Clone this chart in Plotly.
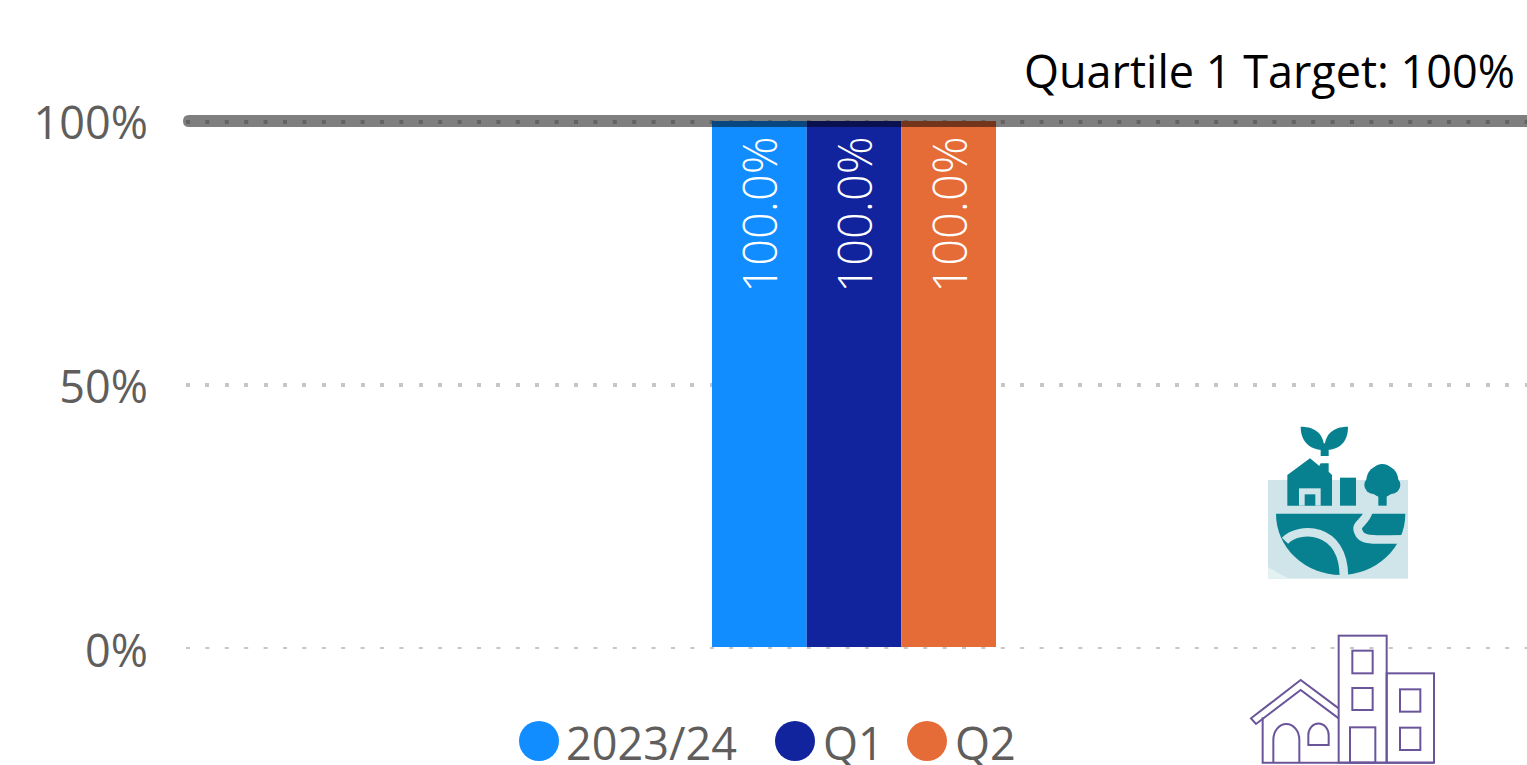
import base64
import plotly.graph_objects as go

W, H = 1527, 765

# Data
categories = ["2023/24"]
series_names = ["2023/24", "Q1", "Q2"]
series_values = [100.0, 100.0, 100.0]
series_colors = ["#118DFF", "#12239E", "#E66C37"]
tick_values = [0, 50, 100]
tick_labels = ["0%", "50%", "100%"]
target_value = 100
target_label = "Quartile 1 Target: 100%"

FONT = "Open Sans"
GREY = "#605E5C"
GRID = "#C8C6C4"
DOT_DASH = "4px,15.4px"


def px(x):
    return x / W


def py(y):
    return 1 - y / H


PLOT_L, PLOT_R, PLOT_T, PLOT_B = 186, 1527, 121, 649

fig = go.Figure()
for name, value, color in zip(series_names, series_values, series_colors):
    fig.add_trace(go.Bar(
        x=categories, y=[value], name=name, marker=dict(color=color, line=dict(width=0)),
        text=[f"{value:.1f}%\u00a0"], textposition="inside", insidetextanchor="end",
        textangle=-90, constraintext="none", cliponaxis=False,
        insidetextfont=dict(family=FONT, size=47, color="white", weight=300),
        showlegend=False, hoverinfo="skip",
    ))

band_y = PLOT_B - (PLOT_B - PLOT_T) * target_value / 100

shapes = []
# top gridline (the axis does not draw one on its range edge): under the bars and band
shapes.append(dict(type="line", xref="paper", yref="paper", layer="below",
                   x0=px(PLOT_L), x1=1, y0=py(band_y + 1), y1=py(band_y + 1),
                   line=dict(color=GRID, width=4, dash=DOT_DASH)))
# bars stop just above the zero line: a thin white strip, then the zero gridline on top
shapes.append(dict(type="rect", xref="paper", yref="paper", layer="above",
                   x0=px(700), x1=px(1010), y0=py(647), y1=py(652),
                   fillcolor="white", line=dict(width=0)))
shapes.append(dict(type="line", xref="paper", yref="y", layer="above",
                   x0=px(PLOT_L), x1=1, y0=0, y1=0,
                   line=dict(color=GRID, width=4, dash=DOT_DASH)))
# target band with a rounded left end, positioned from the target value
y_top, y_mid, y_bot = py(band_y - 6), py(band_y), py(band_y + 6)
x_a, x_b = px(183), px(189)
shapes.append(dict(
    type="path", xref="paper", yref="paper", layer="above",
    path=(f"M{x_b},{y_top} L1,{y_top} L1,{y_bot} L{x_b},{y_bot} "
          f"Q{x_a},{y_bot} {x_a},{y_mid} Q{x_a},{y_top} {x_b},{y_top} Z"),
    fillcolor="rgba(0,0,0,0.5)", line=dict(width=0)))

# legend
legend_items = [(539, 567), (795, 824), (927, 956)]
annotations = []
for (cx, tx), name, color in zip(legend_items, series_names, series_colors):
    shapes.append(dict(type="circle", xref="paper", yref="paper", layer="above",
                       x0=px(cx - 20), x1=px(cx + 20), y0=py(761), y1=py(721),
                       fillcolor=color, line=dict(width=0)))
    annotations.append(dict(xref="paper", yref="paper", x=px(tx), y=py(742), text=name,
                            showarrow=False, xanchor="left", yanchor="middle", xshift=-2,
                            font=dict(family=FONT, size=45, color=GREY),
                            borderpad=0))
annotations.append(dict(xref="paper", yref="paper", x=px(1516), y=py(70), text=target_label,
                        showarrow=False, xanchor="right", yanchor="middle", borderpad=0,
                        font=dict(family=FONT, size=45, color="black")))

icon_svg = f"""<svg xmlns='http://www.w3.org/2000/svg' viewBox='0 0 660 1065' width='660' height='1065'>
<rect x='54' y='560' width='596' height='505' fill='white'/>
<rect x='114' y='210' width='420' height='296' fill='#CFE5EA'/>
<path d='M114,470 Q150,495 180,506 L114,506Z' fill='#E4F1F3'/>
<g fill='#07818F'>
<path d='M212,50 C260,50 283,75 283,120 C240,120 212,95 212,50Z'/>
<path d='M354,50 C306,50 283,75 283,120 C330,120 354,95 354,50Z'/>
<rect x='272' y='100' width='24' height='38'/>
<path d='M172,195 L240,145 L268,168 L272,160 L296,160 L296,185 L306,195 L306,287 L172,287Z'/>
<rect x='330' y='203' width='48' height='84'/>
<circle cx='457' cy='212' r='48'/><circle cx='457' cy='195' r='33'/><circle cx='430' cy='225' r='27'/><circle cx='484' cy='225' r='27'/><circle cx='457' cy='235' r='28'/>
<rect x='445' y='250' width='25' height='37'/>
<path d='M138,311 H526 A194,184 0 0 1 138,311Z'/>
</g>
<rect x='207' y='235' width='65' height='52' fill='#CFE5EA'/>
<rect x='224' y='253' width='32' height='34' fill='#07818F'/>
<g fill='none' stroke='#CFE5EA' stroke-width='26'>
<path d='M165,392 C205,350 340,345 342,500'/>
<path d='M415,305 C405,340 375,340 385,365 C395,395 430,388 520,388'/>
</g>
<g fill='none' stroke='#6A559B' stroke-width='6'>
<rect x='326' y='677' width='144' height='381'/>
<rect x='470' y='790' width='142' height='268'/>
<rect x='367' y='722' width='61' height='68'/>
<rect x='367' y='834' width='61' height='66'/>
<rect x='360' y='952' width='76' height='106'/>
<rect x='510' y='838' width='61' height='67'/>
<rect x='510' y='953' width='61' height='67'/>
<path d='M326,895 L212,810 L63,925 L78,942 L212,840 L326,925'/>
<path d='M98,922 V1058 H612'/>
<path d='M130,1058 V990 A39,48 0 0 1 208,990 V1058'/>
<path d='M235,1005 V975 A30,34 0 0 1 296,975 V1005Z'/>
</g>
</svg>"""
icon_src = "data:image/svg+xml;base64," + base64.b64encode(icon_svg.encode()).decode()

unit = 1336
fig.update_layout(
    width=W, height=H, autosize=False,
    margin=dict(l=0, r=0, t=0, b=0, pad=0, autoexpand=False),
    paper_bgcolor="white", plot_bgcolor="white",
    barmode="group", bargap=1 - 284 / unit, bargroupgap=0,
    font=dict(family=FONT, color=GREY),
    shapes=shapes, annotations=annotations,
    images=[dict(source=icon_src, xref="paper", yref="paper", x=px(1230), y=py(410),
                 sizex=px(220), sizey=355 / H, xanchor="left", yanchor="top",
                 sizing="stretch", layer="above")],
    xaxis=dict(domain=[px(PLOT_L), px(PLOT_R)], type="category",
               range=[-0.5, -0.5 + (PLOT_R - PLOT_L) / unit],
               showticklabels=False, showgrid=False, zeroline=False, showline=False, ticks=""),
    yaxis=dict(domain=[py(PLOT_B), py(PLOT_T)], range=[0, 100], tickmode="array",
               tickvals=tick_values, ticktext=tick_labels, ticks="", showline=False,
               zeroline=False, showgrid=True, gridcolor=GRID, gridwidth=4, griddash=DOT_DASH,
               ticklabelstandoff=37, ticklabelshift=2,
               tickfont=dict(family=FONT, size=45, color=GREY)),
)

fig.write_html("out.html", config=dict(displayModeBar=False),
               post_script="document.body.style.margin='0';document.documentElement.style.overflow='hidden';")
